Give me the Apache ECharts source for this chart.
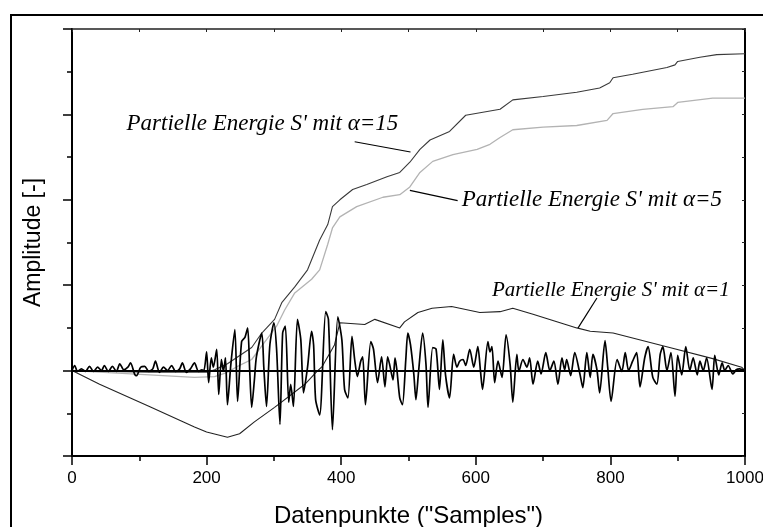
<!DOCTYPE html>
<html>
<head>
<meta charset="utf-8">
<script src="https://cdn.jsdelivr.net/npm/echarts@6/dist/echarts.min.js"></script>
<style>
html,body{margin:0;padding:0;background:#fff;}
#chart{width:763px;height:527px;}
</style>
</head>
<body>
<div id="chart"></div>
<script>
// ---- Data ----
const xTicks = [0, 200, 400, 600, 800, 1000];

// Oscillating measured signal (turning points: sample index / amplitude)
const sigX = [0,4,8,14,20,26,32,38,44,48,54,60,66,71,77,83,87,93,96,102,108,114,120,124,130,136,142,148,154,160,164,170,176,182,188,193,
196,200,203,207,210,215,218,222,225,228,231,236,242,246,252,257,261,264,267,271,274,282,285,289,294,300,304,309,313,317,322,325,329,335,340,344,350,356,359,362,368,377,381,387,395,401,405,410,416,420,424,429,432,436,444,448,454,460,465,469,472,477,480,483,487,491,496,499,503,508,511,515,521,526,529,536,541,546,551,555,561,567,572,576,581,585,591,597,603,607,610,618,621,624,628,633,639,645,651,655,661,664,670,676,680,685,692,697,704,710,716,722,728,732,735,741,747,755,759,765,770,774,780,784,792,796,801,810,817,822,827,833,839,844,851,856,863,869,874,878,884,890,896,900,906,912,918,923,929,933,938,943,951,955,961,966,970,975,982,987,992,1000];
const sigY = [0,0.06,-0.01,0.02,-0.01,0.05,-0.01,0.04,0,0.06,-0.01,0.05,-0.01,0.08,0.01,0.04,0.09,-0.04,-0.06,0.04,0.05,-0.01,0.02,0.11,-0.02,0.04,0,0.06,-0.01,0.02,0.09,-0.02,0.02,0.09,-0.01,0.01,
0,0.22,-0.14,0.15,0.04,0.25,-0.28,0.13,-0.01,0.15,-0.40,0.07,0.48,-0.36,0.34,0.39,0.50,0.01,-0.43,-0.11,0.16,0.44,0.04,-0.42,0.30,0.56,0.25,-0.63,0.44,0.52,-0.37,-0.16,-0.42,0.60,0.36,-0.26,0.04,0.46,0.30,-0.34,-0.52,0.69,0.60,-0.69,0.63,0.36,-0.22,-0.32,0.40,0.13,-0.07,0.11,0.16,-0.40,0.34,0.25,-0.14,0.16,-0.19,0.16,0.07,-0.11,0.15,-0.01,-0.32,-0.40,0.13,0.44,0.30,-0.05,-0.34,-0.01,0.44,0.07,-0.43,0.27,0.25,-0.22,0.36,-0.05,-0.32,0.19,0.04,0.11,0.13,0.06,0.25,0.04,0.28,-0.01,-0.22,0.34,0.22,0.28,-0.14,0.11,-0.08,0.42,0.07,-0.37,0.19,-0.01,0.13,0.04,0.15,-0.16,0.11,-0.04,0.21,0,0.11,-0.16,0.15,0.01,0.13,-0.06,0.21,-0.05,-0.20,0.21,-0.08,0.19,0.01,-0.26,0.35,0.04,-0.36,0.13,-0.01,0.21,0,0.11,0.21,-0.19,0.15,0.28,-0.08,-0.16,0.19,0.28,0,0.21,-0.30,0.18,-0.05,0.28,0,0.15,-0.05,0.11,0,0.15,-0.22,0.18,-0.05,0.09,0,0.06,-0.04,0.01,0.02,0];

// Partielle Energie S' mit alpha=1
const a1X = [0,41,115,182,200,231,249,271,301,346,364,372,390,398,435,450,487,494,514,535,564,606,636,655,685,750,770,804,888,952,995,1000];
const a1Y = [0,-0.16,-0.42,-0.66,-0.72,-0.78,-0.74,-0.60,-0.43,-0.16,-0.01,0.05,0.30,0.56,0.54,0.60,0.50,0.57,0.68,0.73,0.75,0.68,0.69,0.73,0.66,0.50,0.46,0.44,0.27,0.14,0.04,0];

// Partielle Energie S' mit alpha=15
const a15X = [0,115,200,212,231,267,282,301,312,331,350,368,380,387,398,417,438,468,487,502,517,532,561,585,636,655,700,750,784,799,804,833,884,896,900,933,958,1000];
const a15Y = [0,-0.02,-0.02,0.01,0.08,0.27,0.44,0.60,0.80,0.98,1.18,1.53,1.71,1.92,2.00,2.12,2.18,2.27,2.32,2.44,2.59,2.70,2.80,2.99,3.06,3.17,3.21,3.26,3.31,3.37,3.43,3.47,3.55,3.58,3.62,3.67,3.70,3.71];

// Partielle Energie S' mit alpha=5
const a5X = [0,115,182,212,231,246,267,286,304,316,331,356,368,380,387,398,423,462,487,502,517,536,566,602,621,636,655,700,750,795,804,848,893,900,952,1000];
const a5Y = [0,-0.05,-0.08,-0.07,-0.02,0.05,0.13,0.33,0.52,0.71,0.91,1.07,1.18,1.48,1.67,1.80,1.92,2.03,2.06,2.15,2.32,2.45,2.53,2.59,2.65,2.73,2.82,2.85,2.87,2.93,3.01,3.06,3.09,3.14,3.19,3.19];

// Annotation texts and their anchor points (data coordinates)
const labels = ["Partielle Energie S' mit \u03B1=15", "Partielle Energie S' mit \u03B1=5", "Partielle Energie S' mit \u03B1=1"];
const labelAnchors = [[81, 2.89], [579, 2.0], [624, 0.94]];
const leaderStarts = [[420, 2.68], [502, 2.11], [780, 0.85]];
const leaderEnds = [[503, 2.56], [573, 1.99], [752, 0.50]];

const zip = (xs, ys) => xs.map((x, i) => [x, ys[i]]);

const chart = echarts.init(document.getElementById('chart'), null, {renderer: 'canvas'});
const SANS = 'Liberation Sans, Arial, sans-serif';
const SERIF = 'Liberation Serif, Times New Roman, serif';

const option = {
  animation: false,
  backgroundColor: '#fff',
  grid: {left: 72, right: 18, top: 29, bottom: 71, containLabel: false, outerBoundsMode: 'none'},
  xAxis: [
    {
      type: 'value', min: 0, max: 1000, interval: 200, position: 'bottom',
      axisLine: {onZero: false, lineStyle: {color: '#000', width: 2}},
      axisTick: {length: 9, lineStyle: {color: '#000', width: 1.5}},
      minorTick: {show: true, splitNumber: 2, length: 5, lineStyle: {color: '#000', width: 1.5}},
      splitLine: {show: false}, minorSplitLine: {show: false},
      axisLabel: {color: '#000', fontSize: 17, fontFamily: SANS, margin: 14,
        formatter: v => xTicks.indexOf(v) >= 0 ? String(v) : ''},
      name: 'Datenpunkte ("Samples")', nameLocation: 'middle', nameGap: 48,
      nameTextStyle: {fontSize: 24, color: '#000', fontFamily: SANS}
    },
    {
      type: 'value', min: 0, max: 1000, interval: 100, position: 'top',
      axisLine: {onZero: false, lineStyle: {color: '#222', width: 1.5}},
      axisTick: {inside: true, length: 3, lineStyle: {color: '#222', width: 1}},
      axisLabel: {show: false}, splitLine: {show: false}
    }
  ],
  yAxis: [
    {
      type: 'value', min: -1, max: 4, interval: 1, position: 'left',
      axisLine: {onZero: false, lineStyle: {color: '#000', width: 2}},
      axisTick: {length: 9, lineStyle: {color: '#000', width: 1.5}},
      minorTick: {show: true, splitNumber: 2, length: 5, lineStyle: {color: '#000', width: 1.5}},
      splitLine: {show: false}, minorSplitLine: {show: false},
      axisLabel: {show: false},
      name: 'Amplitude [-]', nameLocation: 'middle', nameGap: 27,
      nameTextStyle: {fontSize: 23, color: '#000', fontFamily: SANS}
    },
    {
      type: 'value', min: -1, max: 4, interval: 0.5, position: 'right',
      axisLine: {onZero: false, lineStyle: {color: '#000', width: 2}},
      axisTick: {inside: true, length: 3, lineStyle: {color: '#222', width: 1}},
      axisLabel: {show: false}, splitLine: {show: false}
    }
  ],
  series: [
    {
      name: 'alpha5', type: 'line', data: zip(a5X, a5Y), showSymbol: false,
      lineStyle: {color: '#b3b3b3', width: 1.3}, z: 2
    },
    {
      name: 'alpha15', type: 'line', data: zip(a15X, a15Y), showSymbol: false,
      lineStyle: {color: '#3a3a3a', width: 1.1}, z: 3
    },
    {
      name: 'alpha1', type: 'line', data: zip(a1X, a1Y), showSymbol: false,
      lineStyle: {color: '#222', width: 1.1}, z: 3
    },
    {
      name: 'signal', type: 'line', data: zip(sigX, sigY), showSymbol: false, smooth: 0.25,
      lineStyle: {color: '#000', width: 1.7}, z: 4,
      markLine: {silent: true, symbol: 'none', label: {show: false},
        lineStyle: {color: '#000', width: 2, type: 'solid'}, data: [{yAxis: 0}]}
    }
  ]
};
chart.setOption(option);

const px = p => chart.convertToPixel({xAxisIndex: 0, yAxisIndex: 0}, p);
const fontSizes = [23, 23, 21];
const graphics = [
  {type: 'rect', shape: {x: 11, y: 15, width: 800, height: 600}, style: {fill: 'none', stroke: '#000', lineWidth: 2}, silent: true}
];
labels.forEach((t, i) => {
  const a = px(labelAnchors[i]);
  graphics.push({type: 'text', x: a[0], y: a[1], style: {text: t, fill: '#000',
    font: 'italic ' + fontSizes[i] + 'px ' + SERIF, textAlign: 'left', textVerticalAlign: 'middle'}, z: 10});
  const s = px(leaderStarts[i]), e = px(leaderEnds[i]);
  graphics.push({type: 'line', shape: {x1: s[0], y1: s[1], x2: e[0], y2: e[1]}, style: {stroke: '#000', lineWidth: 1.2}, z: 10});
});
chart.setOption({graphic: graphics});
</script>
</body>
</html>
